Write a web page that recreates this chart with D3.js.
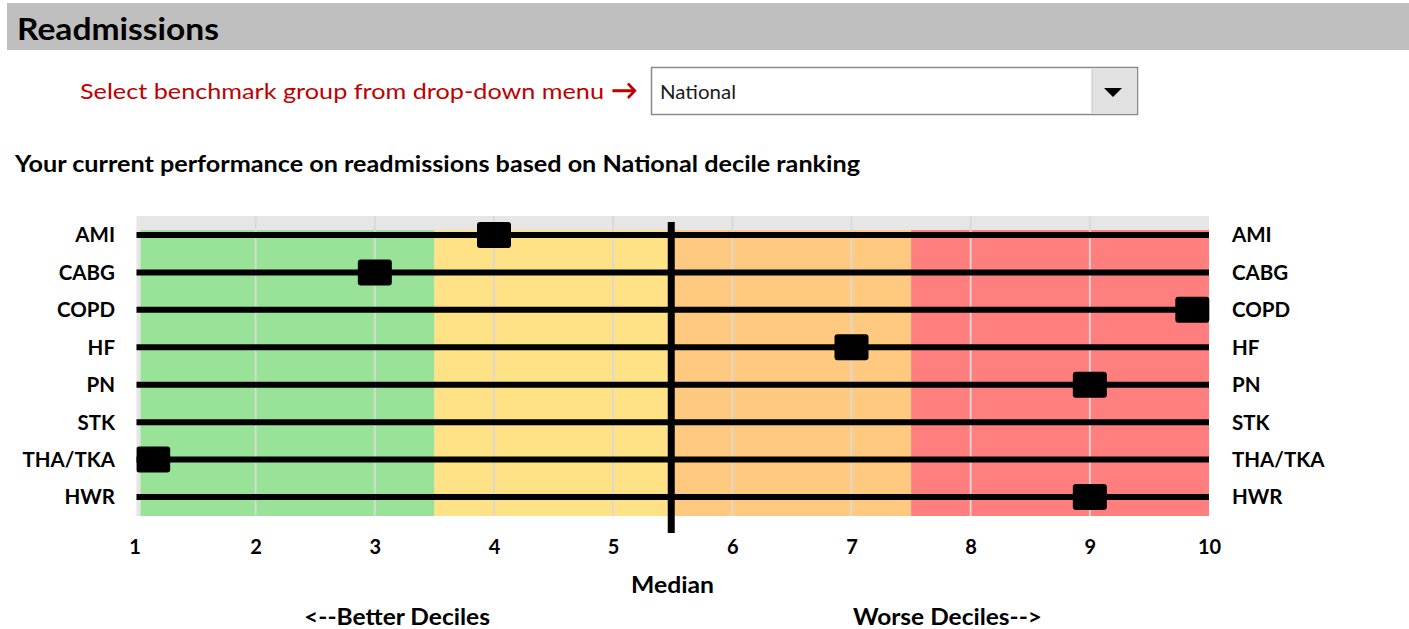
<!DOCTYPE html>
<html><head><meta charset="utf-8">
<script src="https://cdn.jsdelivr.net/npm/d3@7"></script>
<style>
html,body{margin:0;padding:0;background:#fff;}
svg{display:block;font-family:Lato,"Open Sans",sans-serif;}
</style></head>
<body>
<svg id="c" width="1409" height="629"></svg>
<script>
const categories = ["AMI","CABG","COPD","HF","PN","STK","THA/TKA","HWR"];
const deciles = [4, 3, 9.86, 7, 9, null, 1.14, 9];
const tickValues = [1,2,3,4,5,6,7,8,9,10];
const bandStarts = [1, 3.5, 5.5, 7.5];
const bandEnds = [3.5, 5.5, 7.5, 10];
const bandColors = ["#99E399", "#FFE285", "#FFC980", "#FF7F7F"];
const medianValue = 5.5;
const gridValues = [2,3,4,5,6,7,8,9];

(function(){
const svg = d3.select("#c");
const x = d3.scaleLinear().domain([1,10]).range([136.5,1209]);
const y = d3.scalePoint().domain(categories).range([235,497]);

// header
svg.append("rect").attr("x",7).attr("y",3).attr("width",1402).attr("height",47).attr("fill","#BFBFBF");
svg.append("text").attr("x",17).attr("y",40).attr("font-size",31).attr("font-weight",700).attr("fill","#000")
  .attr("textLength",202).attr("lengthAdjust","spacingAndGlyphs").text("Readmissions");

// instruction
svg.append("text").attr("x",80).attr("y",99).attr("font-size",22).attr("fill","#C00000")
  .attr("textLength",524).attr("lengthAdjust","spacingAndGlyphs").text("Select benchmark group from drop-down menu");
svg.append("text").attr("x",611).attr("y",100).attr("font-size",28).attr("font-weight",700).attr("fill","#C00000")
  .attr("textLength",27).attr("lengthAdjust","spacingAndGlyphs").text("\u2192");

// dropdown
svg.append("rect").attr("x",651.5).attr("y",67.5).attr("width",486).attr("height",47).attr("fill","#fff").attr("stroke","#8a8a8a").attr("stroke-width",1.5);
svg.append("rect").attr("x",1092).attr("y",69).attr("width",44.5).attr("height",44.5).attr("fill","#E1E1E1");
svg.append("line").attr("x1",1092).attr("x2",1092).attr("y1",69).attr("y2",113.5).attr("stroke","#c8c8c8");
svg.append("path").attr("d","M1104,88 L1122,88 L1113,97 Z").attr("fill","#000");
svg.append("text").attr("x",660).attr("y",99).attr("font-size",19).attr("fill","#1a1a1a")
  .attr("textLength",76).attr("lengthAdjust","spacingAndGlyphs").text("National");

// subtitle
svg.append("text").attr("x",15).attr("y",172).attr("font-size",22).attr("font-weight",700).attr("fill","#000")
  .attr("textLength",845).attr("lengthAdjust","spacingAndGlyphs")
  .text("Your current performance on readmissions based on National decile ranking");

// plot background
const plotTop = 216, bandTop = 230, plotBottom = 516;
svg.append("rect").attr("x",x(1)).attr("y",plotTop).attr("width",x(10)-x(1)).attr("height",plotBottom-plotTop).attr("fill","#E6E6E6");

svg.selectAll("rect.band").data(bandStarts).join("rect").attr("class","band")
  .attr("x",(d,i)=> i===0 ? x(d)+4 : x(d))
  .attr("width",(d,i)=> x(bandEnds[i]) - (i===0 ? x(d)+4 : x(d)))
  .attr("y",bandTop).attr("height",plotBottom-bandTop)
  .attr("fill",(d,i)=>bandColors[i]);

// gridlines
svg.selectAll("line.grid").data(gridValues).join("line").attr("class","grid")
  .attr("x1",d=>x(d)).attr("x2",d=>x(d)).attr("y1",plotTop).attr("y2",plotBottom)
  .attr("stroke","#D9D9D9").attr("stroke-width",1.8);

// row lines
svg.selectAll("line.row").data(categories).join("line").attr("class","row")
  .attr("x1",x(1)).attr("x2",x(10)).attr("y1",d=>y(d)).attr("y2",d=>y(d))
  .attr("stroke","#000").attr("stroke-width",6);

// median line
svg.append("line").attr("x1",x(medianValue)-1.5).attr("x2",x(medianValue)-1.5).attr("y1",222).attr("y2",533)
  .attr("stroke","#000").attr("stroke-width",7);

// markers
svg.append("clipPath").attr("id","pc").append("rect").attr("x",x(1)).attr("y",plotTop-20).attr("width",x(10)-x(1)+3).attr("height",plotBottom-plotTop+40);
const mW = 34, mH = 26;
svg.append("g").attr("clip-path","url(#pc)").selectAll("rect.m")
  .data(categories.map((c,i)=>({c, v:deciles[i]})).filter(d=>d.v!=null))
  .join("rect").attr("class","m")
  .attr("x",d=>x(d.v)-mW/2).attr("y",d=>y(d.c)-mH/2).attr("width",mW).attr("height",mH)
  .attr("rx",3).attr("ry",3).attr("fill","#000");

// y labels
svg.selectAll("text.yl").data(categories).join("text").attr("class","yl")
  .attr("x",115).attr("y",d=>y(d)).attr("dy","0.36em").attr("text-anchor","end")
  .attr("font-size",20.5).attr("font-weight",700).text(d=>d);
svg.selectAll("text.yr").data(categories).join("text").attr("class","yr")
  .attr("x",1232).attr("y",d=>y(d)).attr("dy","0.36em").attr("text-anchor","start")
  .attr("font-size",20.5).attr("font-weight",700).text(d=>d);

// x axis
const ax = svg.append("g").attr("transform","translate(0,536)")
  .call(d3.axisBottom(x).tickValues(tickValues).tickFormat(d3.format("d")).tickSize(0).tickPadding(4));
ax.select(".domain").remove();
ax.selectAll("text").attr("font-size",20).attr("font-weight",700).attr("fill","#000").attr("font-family","Lato,'Open Sans',sans-serif");
ax.selectAll(".tick").filter(d=>d===1).select("text").attr("dx",-2);

// bottom labels
svg.append("text").attr("x",631).attr("y",593).attr("font-size",22).attr("font-weight",700)
  .attr("textLength",83).attr("lengthAdjust","spacingAndGlyphs").text("Median");
svg.append("text").attr("x",304).attr("y",625).attr("font-size",22).attr("font-weight",700)
  .attr("textLength",186).attr("lengthAdjust","spacingAndGlyphs").text("<--Better Deciles");
svg.append("text").attr("x",853).attr("y",625).attr("font-size",22).attr("font-weight",700)
  .attr("textLength",189).attr("lengthAdjust","spacingAndGlyphs").text("Worse Deciles-->");
})();
</script>
</body></html>
